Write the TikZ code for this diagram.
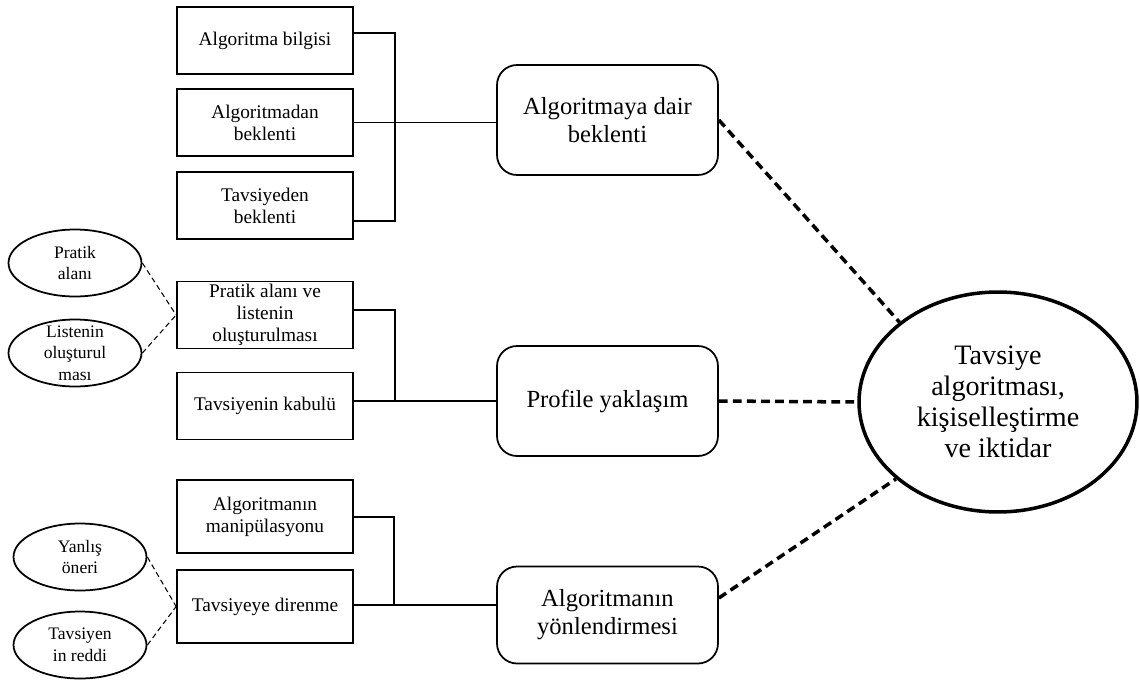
\documentclass[tikz,border=0pt]{standalone}
\usepackage{fontspec}
\setmainfont{Liberation Serif}
\usetikzlibrary{shapes.geometric}

\tikzset{
  kutu/.style={draw, line width=1pt, minimum width=3.52cm, minimum height=1.34cm,
    inner sep=1pt, align=center, font=\fontsize{11}{12.6}\selectfont},
  yuvarlak/.style={draw, line width=1pt, rounded corners=0.4cm, minimum width=4.42cm,
    minimum height=2.2cm, align=center, font=\fontsize{14}{16}\selectfont},
  kucukelips/.style={ellipse, draw, line width=1pt, inner xsep=0pt, inner ysep=-4pt,
    minimum width=2.66cm, minimum height=1.34cm, align=center, font=\fontsize{10}{12.3}\selectfont},
  buyukelips/.style={ellipse, draw, line width=2pt, inner sep=1pt, minimum width=5.56cm,
    minimum height=4.4cm, align=center, font=\fontsize{16}{17.6}\selectfont},
  cizgi/.style={line width=1pt},
  ince/.style={line width=0.6pt, dash pattern=on 3pt off 2pt},
  kalin/.style={line width=2pt, dash pattern=on 5pt off 3pt}
}

\begin{document}
\begin{tikzpicture}[x=0.02cm, y=-0.02cm]
  \useasboundingbox (0,0) rectangle (1140,680);

  % sol kutular
  \node[kutu] (b1) at (265,40.5) {Algoritma bilgisi};
  \node[kutu] (b2) at (265,122.5) {Algoritmadan\\beklenti};
  \node[kutu] (b3) at (265,205.5) {Tavsiyeden\\beklenti};
  \node[kutu] (b4) at (265,315) {Pratik alanı ve\\listenin\\oluşturulması};
  \node[kutu] (b5) at (265,406) {Tavsiyenin kabulü};
  \node[kutu, minimum height=1.46cm] (b6) at (265,516.5) {Algoritmanın\\manipülasyonu};
  \node[kutu, minimum height=1.46cm] (b7) at (265,606.5) {Tavsiyeye direnme};

  % orta kutular
  \node[yuvarlak] (r1) at (607.5,120) {Algoritmaya dair\\beklenti};
  \node[yuvarlak] (r2) at (607.5,401) {Profile yaklaşım};
  \node[yuvarlak, minimum height=1.94cm] (r3) at (607.5,615) {Algoritmanın\\yönlendirmesi};

  % ana kavram
  \node[buyukelips] (c) at (998,402) {Tavsiye\\algoritması,\\kişiselleştirme\\ve iktidar};

  % alt kodlar
  \node[kucukelips] (e1) at (75,263) {Pratik\\alanı};
  \node[kucukelips] (e2) at (75,353) {Listenin\\oluşturul\\ması};
  \node[kucukelips] (e3) at (80,557) {Yanlış\\öneri};
  \node[kucukelips] (e4) at (80,645) {Tavsiyen\\in reddi};

  % parantezler
  \coordinate (k1a) at (395,33);
  \coordinate (k1b) at (395,221);
  \coordinate (k2a) at (395,310);
  \coordinate (k2b) at (395,401);
  \coordinate (k3a) at (394,517);
  \coordinate (k3b) at (394,605);
  \draw[cizgi] (b1.east |- k1a) -- (k1a) -- (k1b) -- (b3.east |- k1b);
  \draw[cizgi] (b2.east) -- (b2.east -| r1.west);
  \draw[cizgi] (b4.east |- k2a) -- (k2a) -- (k2b) -- (b5.east |- k2b);
  \draw[cizgi] (k2b) -- (k2b -| r2.west);
  \draw[cizgi] (b6.east |- k3a) -- (k3a) -- (k3b) -- (b7.east |- k3b);
  \draw[cizgi] (k3b) -- (k3b -| r3.west);

  \foreach \e/\b in {e1/b4, e2/b4, e3/b7, e4/b7}
    \draw[ince] (\e.east) -- (\b.west);

  \draw[kalin] (r1.east) -- (c.141);
  \draw[kalin] (r2.east) -- (c.west);
  \draw[kalin] ([yshift=0.34cm]r3.east) -- (c.217);
\end{tikzpicture}
\end{document}
